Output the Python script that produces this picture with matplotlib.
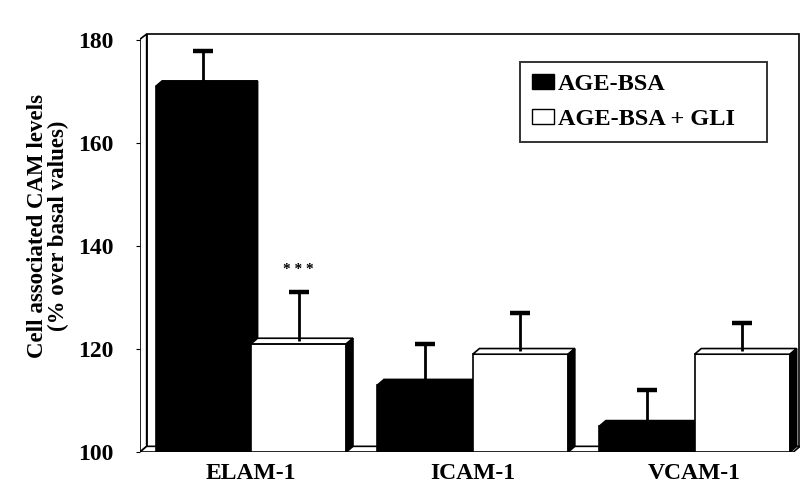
import matplotlib
matplotlib.use("Agg")
import matplotlib.pyplot as plt
from matplotlib.patches import Polygon, Rectangle, Patch
import numpy as np

categories = ["ELAM-1", "ICAM-1", "VCAM-1"]
series_names = ["AGE-BSA", "AGE-BSA + GLI"]
age_bsa = [171, 113, 105]
age_bsa_err = [7, 8, 7]
age_bsa_gli = [121, 119, 119]
age_bsa_gli_err = [10, 8, 6]
yticks = [100, 120, 140, 160, 180]

plt.rcParams["font.family"] = ["Liberation Serif", "DejaVu Serif"]
plt.rcParams["font.weight"] = "bold"

fig = plt.figure(figsize=(8.04, 4.84), dpi=100)
ax = fig.add_axes([140 / 804, 32 / 484, 660 / 804, 419 / 484])

x0, x1 = -0.5, 2.475
y0, y1 = 100, 181.4
ax.set_xlim(x0, x1)
ax.set_ylim(y0, y1)
for s in ax.spines.values():
    s.set_visible(False)

# depth of the pseudo-3D walls and bars, in data units
dx, dy = 0.03, 1.1
lw = 1.2

# back wall, left wall and floor
ax.add_patch(Polygon([(x0 + dx, y0 + dy), (x0 + dx, y1 - 0.2), (x1 - 0.006, y1 - 0.2),
                      (x1 - 0.006, y0 + dy)], closed=False, fill=False,
                     edgecolor="black", lw=lw, zorder=1))
ax.add_patch(Polygon([(x0, y0), (x0, y1 - 1.2), (x0 + dx, y1 - 0.2), (x0 + dx, y0 + dy)],
                     closed=True, facecolor="white", edgecolor="black", lw=lw, zorder=1))
ax.add_patch(Polygon([(x0, y0), (x1 - dx, y0), (x1, y0 + dy), (x0 + dx, y0 + dy)],
                     closed=True, facecolor="white", edgecolor="black", lw=lw, zorder=1))

width = 0.43
xc = np.arange(len(categories))


def bar3d(left, value, face):
    right = left + width
    # front face
    ax.add_patch(Rectangle((left, y0), width, value - y0, facecolor=face,
                           edgecolor="black", lw=lw, zorder=3))
    # top face
    ax.add_patch(Polygon([(left, value), (left + dx, value + dy), (right + dx, value + dy),
                          (right, value)], closed=True, facecolor=face,
                         edgecolor="black", lw=lw, zorder=3))
    # side face
    ax.add_patch(Polygon([(right, y0), (right + dx, y0 + dy), (right + dx, value + dy),
                          (right, value)], closed=True, facecolor="black",
                         edgecolor="black", lw=lw, zorder=3))


def errbar(xm, value, err):
    ax.plot([xm, xm], [value + dy * 0.5, value + err], color="black", lw=2.0, zorder=4,
            solid_capstyle="butt")
    ax.plot([xm - 0.045, xm + 0.045], [value + err, value + err], color="black", lw=3.2,
            zorder=4, solid_capstyle="butt")


for i in range(len(categories)):
    bar3d(xc[i] - width, age_bsa[i], "black")
    bar3d(xc[i], age_bsa_gli[i], "white")
    errbar(xc[i] - width / 2, age_bsa[i], age_bsa_err[i])
    errbar(xc[i] + width / 2, age_bsa_gli[i], age_bsa_gli_err[i])

ax.text(xc[0] + width / 2, age_bsa_gli[0] + age_bsa_gli_err[0] + 3.2, "* * *",
        ha="center", va="bottom", fontsize=11, fontweight="bold")

ax.set_yticks(yticks)
ax.set_yticklabels([str(t) for t in yticks], fontsize=17, fontweight="bold")
ax.tick_params(axis="y", length=3, width=0.8, pad=16)
ax.set_xticks(xc)
ax.set_xticklabels(categories, fontsize=17, fontweight="bold")
ax.tick_params(axis="x", length=0, pad=8)

ax.set_ylabel("Cell associated CAM levels\n(% over basal values)", fontsize=16.5,
              fontweight="bold", linespacing=0.95)
ax.yaxis.set_label_coords(-0.108, 0.54)

# legend, stretched to a fixed box with the entries left-aligned
handles = [Patch(facecolor="black", edgecolor="black"),
           Patch(facecolor="white", edgecolor="black")]
leg = ax.legend(handles, series_names, loc="upper left", mode="expand",
                bbox_to_anchor=(0.576, 0.5, 0.374, 0.431),
                frameon=True, fancybox=False, handlelength=0.9,
                handleheight=0.6, handletextpad=0.15, borderpad=0.5, labelspacing=0.55,
                borderaxespad=0, prop={"weight": "bold", "size": 17.5})
leg.get_frame().set_edgecolor("black")
leg.get_frame().set_linewidth(1.4)

fig.savefig("out.png", dpi=100, facecolor="white")
